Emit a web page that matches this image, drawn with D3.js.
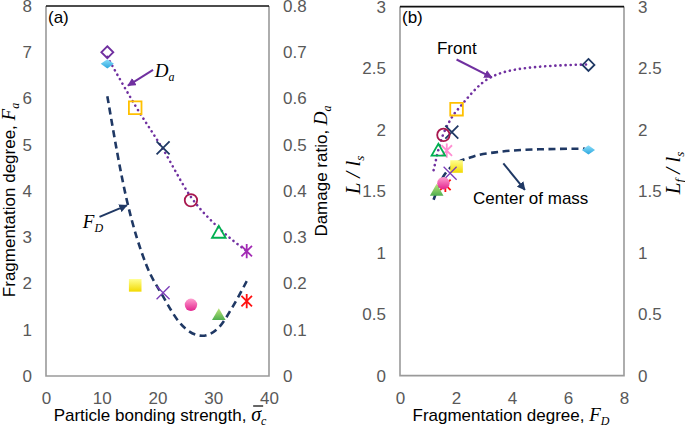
<!DOCTYPE html>
<html lang="en">
<head>
<meta charset="UTF-8">
<title>Fragmentation degree and damage ratio</title>
<script src="https://d3js.org/d3.v7.min.js"></script>
<style>
body { margin: 0; background: #fff; }
svg text { font-family: Arial, "Liberation Sans", sans-serif; }
.tick text { font-size: 17px; fill: #595959; }
.lbl { font-size: 17px; fill: #000; }
.math { font-family: "Times New Roman", "Liberation Serif", serif; font-style: italic; }
</style>
</head>
<body>
<div id="chart"></div>
<script>
// panel (a): bonding strength vs fragmentation degree / damage ratio
var bond = [11, 16, 21, 26, 31, 36];
var fragDeg = [6.75, 1.96, 1.8, 1.54, 1.32, 1.62];
var damage = [0.70, 0.58, 0.493, 0.38, 0.31, 0.27];
// trend curves
var daTrendX = [11, 16, 21, 26, 31, 36];
var daTrendY = [0.69, 0.585, 0.49, 0.387, 0.32, 0.27];
var fdTrendX = [11, 14.5, 18, 21, 24, 28, 31, 33.5, 36];
var fdTrendY = [6.05, 3.8, 2.4, 1.72, 1.15, 0.87, 1.05, 1.5, 2.05];

// panel (b): fragmentation degree vs travel distance
var frontX = [6.73, 2.02, 1.85, 1.55, 1.37, 1.67];
var frontY = [2.526, 2.166, 1.98, 1.957, 1.83, 1.83];
var comX = [6.73, 2.02, 1.79, 1.55, 1.31, 1.62];
var comY = [1.835, 1.70, 1.645, 1.564, 1.504, 1.55];
var frontTrendX = [1.2, 1.45, 1.8, 2.2, 3.2, 4.5, 6.7];
var frontTrendY = [1.67, 1.9, 2.08, 2.2, 2.42, 2.5, 2.53];
var comTrendX = [1.2, 1.5, 1.8, 2.6, 3.6, 5, 6.6];
var comTrendY = [1.43, 1.6, 1.69, 1.78, 1.82, 1.84, 1.845];

var ticksA = [0, 10, 20, 30, 40];
var ticksFa = [0, 1, 2, 3, 4, 5, 6, 7, 8];
var ticksDa = [0, 0.1, 0.2, 0.3, 0.4, 0.5, 0.6, 0.7, 0.8];
var ticksB = [0, 2, 4, 6, 8];
var ticksL = [0, 0.5, 1, 1.5, 2, 2.5, 3];

var shapes = ["diamond", "square", "x", "circle", "triangle", "asterisk"];
var openColA = ["#7030a0", "#ffc000", "#1f3864", "#a8174e", "#00b050", "#a22ab4"];
var openColB = ["#1f3864", "#ffc000", "#1f3864", "#a8174e", "#00b050", "#ff8fd2"];
var filledCol = ["url(#gCyan)", "url(#gYellow)", "#7a3cb8", "url(#gPink)", "url(#gGreen)", "#ff1010"];

var W = 685, H = 427;
var svg = d3.select("#chart").append("svg").attr("width", W).attr("height", H);

var defs = svg.append("defs");
function grad(id, c1, c2) {
  var g = defs.append("linearGradient").attr("id", id)
    .attr("x1", 0).attr("y1", 0).attr("x2", 0).attr("y2", 1);
  g.append("stop").attr("offset", "0%").attr("stop-color", c1);
  g.append("stop").attr("offset", "100%").attr("stop-color", c2);
}
grad("gCyan", "#8ee0fb", "#2aa6de");
grad("gYellow", "#ffff90", "#f2d900");
grad("gPink", "#ff9fd0", "#e3248e");
grad("gGreen", "#bde67a", "#4fae4f");
function arrowHead(id, col) {
  defs.append("marker").attr("id", id).attr("viewBox", "0 0 10 10")
    .attr("refX", 9).attr("refY", 5).attr("markerWidth", 4.2).attr("markerHeight", 4.2)
    .attr("orient", "auto").attr("markerUnits", "strokeWidth")
    .append("path").attr("d", "M0,0 L10,5 L0,10 Z").attr("fill", col);
}
arrowHead("ahPurple", "#7030a0");
arrowHead("ahNavy", "#1f3864");

function shapePath(s, r) {
  if (s === "diamond") return "M0," + (-r) + "L" + r + ",0L0," + r + "L" + (-r) + ",0Z";
  if (s === "square") return "M" + (-r) + "," + (-r) + "h" + 2 * r + "v" + 2 * r + "h" + (-2 * r) + "Z";
  if (s === "circle") return "M" + r + ",0A" + r + "," + r + " 0 1,1 " + (-r) + ",0A" + r + "," + r + " 0 1,1 " + r + ",0Z";
  if (s === "triangle") return "M0," + (-r) + "L" + r + "," + r * 0.75 + "L" + (-r) + "," + r * 0.75 + "Z";
  if (s === "x") return "M" + (-r) + "," + (-r) + "L" + r + "," + r + "M" + (-r) + "," + r + "L" + r + "," + (-r);
  var a = r * 0.85;
  return "M" + (-a) + "," + (-a) + "L" + a + "," + a + "M" + (-a) + "," + a + "L" + a + "," + (-a) +
    "M0," + (-r * 1.15) + "L0," + r * 1.15;
}

function drawMarkers(g, xs, ys, x, y, cols, filled) {
  var pts = xs.map(function (v, i) { return { x: v, y: ys[i], s: shapes[i], c: cols[i] }; });
  // asterisk sits underneath the others
  pts.sort(function (a, b) { return (b.s === "asterisk") - (a.s === "asterisk"); });
  g.selectAll(null).data(pts).enter().append("path")
    .attr("transform", function (d) {
      var t = "translate(" + x(d.x) + "," + y(d.y) + ")";
      if (filled && d.s === "diamond") t += " scale(1.1,0.78)";
      return t;
    })
    .attr("d", function (d) {
      var r = { diamond: 6, square: 6.3, circle: 6.2, triangle: 6.8, x: 6.5, asterisk: 6.2 }[d.s];
      return shapePath(d.s, r);
    })
    .attr("fill", function (d) { return filled && d.s !== "x" && d.s !== "asterisk" ? d.c : "none"; })
    .attr("stroke", function (d) { return filled && d.s !== "x" && d.s !== "asterisk" ? "none" : d.c; })
    .attr("stroke-width", function (d) { return d.s === "x" && filled ? 1.3 : 1.8; });
}

function trend(g, xs, ys, x, y, col, dash, cap) {
  var line = d3.line().x(function (d) { return x(d[0]); }).y(function (d) { return y(d[1]); })
    .curve(d3.curveMonotoneX);
  g.append("path").datum(xs.map(function (v, i) { return [v, ys[i]]; }))
    .attr("d", line).attr("fill", "none").attr("stroke", col)
    .attr("stroke-width", 2.6).attr("stroke-dasharray", dash).attr("stroke-linecap", cap);
}

function arrow(g, x, y, p, col, id) {
  g.append("line").attr("x1", x(p[0])).attr("y1", y(p[1])).attr("x2", x(p[2])).attr("y2", y(p[3]))
    .attr("stroke", col).attr("stroke-width", 2).attr("marker-end", "url(#" + id + ")");
}

function frame(g, x, y) {
  var x0 = x.range()[0], x1 = x.range()[1], y0 = y.range()[0], y1 = y.range()[1];
  g.append("path").attr("d", "M" + x0 + "," + y1 + "V" + y0 + "H" + x1 + "V" + y1)
    .attr("fill", "none").attr("stroke", "#9a9a9a").attr("stroke-width", 1.6);
  g.append("line").attr("x1", x0).attr("x2", x1).attr("y1", y1).attr("y2", y1)
    .attr("stroke", "#111").attr("stroke-width", 1.6);
}

function axes(g, x, yl, yr, tx, tyl, tyr, fx) {
  var b = g.append("g").attr("transform", "translate(0," + yl.range()[0] + ")")
    .call(d3.axisBottom(x).tickValues(tx).tickSize(0).tickPadding(16).tickFormat(fx));
  var l = g.append("g").attr("transform", "translate(" + x.range()[0] + ",0)")
    .call(d3.axisLeft(yl).tickValues(tyl).tickSize(0).tickPadding(14).tickFormat(d3.format("")));
  var r = g.append("g").attr("transform", "translate(" + x.range()[1] + ",0)")
    .call(d3.axisRight(yr).tickValues(tyr).tickSize(0).tickPadding(14).tickFormat(d3.format("")));
  [b, l, r].forEach(function (a) { a.select(".domain").remove(); a.selectAll("text").style("font-family", null); });
  g.selectAll(".tick text").attr("font-family", null);
}

// ---------- panel (a)
var xa = d3.scaleLinear().domain([0, 40]).range([46, 269]);
var ya = d3.scaleLinear().domain([0, 8]).range([376, 6]);
var yda = d3.scaleLinear().domain([0, 0.8]).range([376, 6]);
var ga = svg.append("g");
frame(ga, xa, ya);
axes(ga, xa, ya, yda, ticksA, ticksFa, ticksDa, d3.format(""));
trend(ga, fdTrendX, fdTrendY, xa, ya, "#1f3864", "7 4.5", "butt");
trend(ga, daTrendX, daTrendY, xa, yda, "#7030a0", "0.1 5", "round");
drawMarkers(ga, bond, damage, xa, yda, openColA, false);
drawMarkers(ga, bond, fragDeg, xa, ya, filledCol, true);
arrow(ga, xa, ya, [19.2, 6.62, 14.7, 6.28], "#7030a0", "ahPurple");
arrow(ga, xa, ya, [9.6, 3.44, 14.5, 3.69], "#1f3864", "ahNavy");

ga.append("text").attr("class", "lbl").attr("x", 48).attr("y", 23).text("(a)");
var tDa = ga.append("text").attr("class", "math").attr("x", xa(19.5)).attr("y", ya(6.46)).attr("font-size", 19);
tDa.append("tspan").text("D");
tDa.append("tspan").attr("font-size", 12).attr("dy", 4).text("a");
var tFd = ga.append("text").attr("class", "math").attr("x", xa(6.6)).attr("y", ya(3.2)).attr("font-size", 19);
tFd.append("tspan").text("F");
tFd.append("tspan").attr("font-size", 12).attr("dy", 4).text("D");

var xlA = ga.append("text").attr("class", "lbl").attr("x", 160).attr("y", 421).attr("text-anchor", "middle");
xlA.append("tspan").text("Particle bonding strength,  ");
var sig = xlA.append("tspan").attr("class", "math").attr("font-size", 20).text("σ");
xlA.append("tspan").attr("class", "math").attr("font-size", 12).attr("dy", 4).text("c");
var sb = sig.node().getBBox ? null : null;

var ylA = ga.append("text").attr("class", "lbl").attr("text-anchor", "middle")
  .attr("transform", "translate(15,200) rotate(-90)");
ylA.append("tspan").text("Fragmentation degree,  ");
ylA.append("tspan").attr("class", "math").attr("font-size", 19).text("F");
ylA.append("tspan").attr("class", "math").attr("font-size", 12).attr("dy", 4).text("a");

var yrA = ga.append("text").attr("class", "lbl").attr("text-anchor", "middle")
  .attr("transform", "translate(327,171) rotate(-90)");
yrA.append("tspan").text("Damage ratio,  ");
yrA.append("tspan").attr("class", "math").attr("font-size", 19).text("D");
yrA.append("tspan").attr("class", "math").attr("font-size", 12).attr("dy", 4).text("a");

// ---------- panel (b)
var xb = d3.scaleLinear().domain([0, 8]).range([400, 624]);
var yb = d3.scaleLinear().domain([0, 3]).range([375.6, 6.6]);
var gb = svg.append("g");
frame(gb, xb, yb);
axes(gb, xb, yb, yb, ticksB, ticksL, ticksL, d3.format(""));
trend(gb, comTrendX, comTrendY, xb, yb, "#1f3864", "7 4.5", "butt");
trend(gb, frontTrendX, frontTrendY, xb, yb, "#7030a0", "0.1 5", "round");
drawMarkers(gb, frontX, frontY, xb, yb, openColB, false);
drawMarkers(gb, comX, comY, xb, yb, filledCol, true);
arrow(gb, xb, yb, [2.02, 2.57, 3.28, 2.425], "#7030a0", "ahPurple");
arrow(gb, xb, yb, [3.69, 1.726, 4.46, 1.51], "#1f3864", "ahNavy");

gb.append("text").attr("class", "lbl").attr("x", 402).attr("y", 23).text("(b)");
gb.append("text").attr("class", "lbl").attr("x", xb(1.32)).attr("y", yb(2.615)).text("Front");
gb.append("text").attr("class", "lbl").attr("x", xb(2.61)).attr("y", yb(1.395)).text("Center of mass");

var xlB = gb.append("text").attr("class", "lbl").attr("x", 511).attr("y", 421).attr("text-anchor", "middle");
xlB.append("tspan").text("Fragmentation degree,  ");
xlB.append("tspan").attr("class", "math").attr("font-size", 19).text("F");
xlB.append("tspan").attr("class", "math").attr("font-size", 12).attr("dy", 4).text("D");

function lenLabel(g, cx, cy, sub) {
  var t = g.append("text").attr("class", "math").attr("text-anchor", "middle").attr("font-size", 21)
    .attr("transform", "translate(" + cx + "," + cy + ") rotate(-90)");
  t.append("tspan").text("L");
  if (sub) t.append("tspan").attr("font-size", 13).attr("dy", 4).text(sub);
  t.append("tspan").attr("dy", sub ? -4 : 0).text(" / l");
  t.append("tspan").attr("font-size", 13).attr("dy", 4).text("s");
}
lenLabel(gb, 360, 175, null);
lenLabel(gb, 680, 173, "f");

// bar over sigma
var bb = sig.node().getBBox();
ga.append("line").attr("x1", bb.x + 2).attr("x2", bb.x + bb.width + 1)
  .attr("y1", bb.y + 3).attr("y2", bb.y + 3).attr("stroke", "#000").attr("stroke-width", 1.2);
</script>
</body>
</html>
